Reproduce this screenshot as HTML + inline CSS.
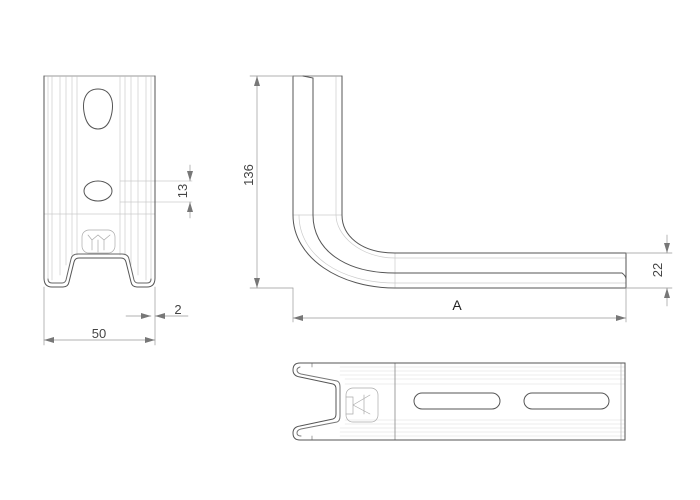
<!DOCTYPE html>
<html><head><meta charset="utf-8"><style>
html,body{margin:0;padding:0;background:#fff}
svg{display:block}
text{font-family:"Liberation Sans",sans-serif;fill:#444}
</style></head><body>
<svg width="700" height="500" viewBox="0 0 700 500" xmlns="http://www.w3.org/2000/svg">
<defs>
<marker id="ar" viewBox="0 0 10 6" refX="10" refY="3" markerWidth="10" markerHeight="6" orient="auto-start-reverse" markerUnits="userSpaceOnUse"><path d="M0,0 L10,3 L0,6 z" fill="#777"/></marker>
</defs>
<g fill="none" stroke-linecap="round">
<!-- LEFT VIEW -->
<g stroke="#ccc" stroke-width="0.7">
<line x1="48" y1="77" x2="48" y2="280"/><line x1="52" y1="77" x2="52" y2="280"/>
<line x1="60" y1="77" x2="60" y2="275"/><line x1="66" y1="77" x2="66" y2="265"/>
<line x1="72" y1="77" x2="72" y2="255"/><line x1="77" y1="77" x2="77" y2="255"/>
<line x1="120" y1="77" x2="120" y2="255"/><line x1="125" y1="77" x2="125" y2="255"/>
<line x1="131" y1="77" x2="131" y2="265"/><line x1="138" y1="77" x2="138" y2="275"/>
<line x1="146" y1="77" x2="146" y2="280"/><line x1="151" y1="77" x2="151" y2="280"/>
<line x1="44" y1="214" x2="155" y2="214"/>
<line x1="120" y1="181" x2="192" y2="181"/><line x1="120" y1="202" x2="192" y2="202"/>
</g>
<g stroke="#555" stroke-width="1">
<line x1="44" y1="76" x2="155" y2="76" stroke="#999"/>
<line x1="44" y1="76" x2="44" y2="278"/><line x1="155" y1="76" x2="155" y2="278"/>
<path d="M98,89 C86,89 82,100 84,112 C86,124 91,129 98,129 C105,129 110,124 112,112 C114,100 110,89 98,89 Z"/>
<ellipse cx="98" cy="191" rx="14" ry="10"/>
<path d="M44,278 Q44,287 52,287 L63,287 Q68,287 69,282 L74,262 Q75,258 79,258 L121,258 Q125,258 126,262 L131,282 Q132,287 137,287 L147,287 Q155,287 155,278"/>
<path d="M48,279 Q48,283 52,283 L62,283 Q65,283 66,280 L71,259 Q72,254 78,254 L122,254 Q128,254 129,259 L134,280 Q135,283 138,283 L147,283 Q151,283 151,279" stroke="#666"/>
</g>
<g stroke="#aaa" stroke-width="0.7">
<rect x="82" y="230" width="33" height="23" rx="7"/>
<path d="M88,235 L92,240 L98,235 L104,240 L110,235 M92,240 L92,250 M104,240 L104,250 M98,240 L98,252"/>
</g>
<!-- dims left -->
<g stroke="#999" stroke-width="0.7">
<line x1="190" y1="165" x2="190" y2="181" marker-end="url(#ar)"/>
<line x1="190" y1="218" x2="190" y2="202" marker-end="url(#ar)"/>
<line x1="44" y1="287" x2="44" y2="345"/><line x1="155" y1="287" x2="155" y2="345"/>
<line x1="44" y1="340" x2="155" y2="340" marker-start="url(#ar)" marker-end="url(#ar)"/>
<line x1="126" y1="316" x2="151" y2="316" marker-end="url(#ar)"/>
<line x1="188" y1="316" x2="155" y2="316" marker-end="url(#ar)"/>
</g>
<!-- SIDE VIEW -->
<g stroke="#ccc" stroke-width="0.7">
<line x1="336" y1="77" x2="336" y2="215"/>
<line x1="293" y1="215" x2="342" y2="215"/>
<line x1="395" y1="253" x2="395" y2="288"/>
<path d="M299,215 C299,255 340,283 395,283"/>
<path d="M336,215 C336,235 360,258 395,258"/>
<line x1="395" y1="258" x2="626" y2="258"/>
<line x1="395" y1="283" x2="626" y2="283"/>
</g>
<g stroke="#555" stroke-width="1">
<line x1="293" y1="76" x2="342" y2="76" stroke="#888"/>
<path d="M293,76 L293,215 C293,258 340,288 395,288 L626,288 L626,253 L395,253 C360,253 342,235 342,215 L342,76"/>
<path d="M303,76 L313,78 L313,215 C313,250 345,273 395,273 L622,273 Q626,276 626,279"/>
</g>
<g stroke="#999" stroke-width="0.7">
<line x1="250" y1="76" x2="293" y2="76"/><line x1="250" y1="288" x2="293" y2="288"/>
<line x1="257" y1="76" x2="257" y2="288" marker-start="url(#ar)" marker-end="url(#ar)"/>
<line x1="626" y1="253" x2="672" y2="253"/><line x1="626" y1="288" x2="672" y2="288"/>
<line x1="667" y1="235" x2="667" y2="253" marker-end="url(#ar)"/>
<line x1="667" y1="306" x2="667" y2="288" marker-end="url(#ar)"/>
<line x1="293" y1="288" x2="293" y2="322"/><line x1="626" y1="288" x2="626" y2="322"/>
<line x1="293" y1="318" x2="626" y2="318" marker-start="url(#ar)" marker-end="url(#ar)"/>
</g>
<!-- BOTTOM VIEW -->
<g stroke="#ddd" stroke-width="0.6">
<line x1="340" y1="367" x2="625" y2="367"/><line x1="340" y1="371" x2="625" y2="371"/>
<line x1="340" y1="375" x2="625" y2="375"/><line x1="345" y1="379" x2="625" y2="379"/>
<line x1="345" y1="384" x2="625" y2="384"/><line x1="345" y1="420" x2="625" y2="420"/>
<line x1="345" y1="424" x2="625" y2="424"/><line x1="340" y1="428" x2="625" y2="428"/>
<line x1="340" y1="432" x2="625" y2="432"/><line x1="340" y1="436" x2="625" y2="436"/>
</g>
<g stroke="#888" stroke-width="0.8">
<line x1="395" y1="363" x2="395" y2="440"/>
<line x1="312" y1="363" x2="312" y2="367"/><line x1="312" y1="436" x2="312" y2="440"/>
<line x1="621" y1="363" x2="621" y2="440" stroke="#bbb"/>
</g>
<g stroke="#555" stroke-width="1">
<path d="M625,363 L300,363 Q293,363 293,370 Q293,376 300,377 L333,384 Q336,385 336,389 L336,414 Q336,418 333,419 L300,426 Q293,427 293,433 Q293,440 300,440 L625,440 Z"/>
<path d="M300,367 Q297,368 297,370 Q297,373 301,374 L337,381 Q340,382 340,387 L340,416 Q340,421 337,422 L301,429 Q297,430 297,433 Q297,436 301,436" stroke="#777"/>
<rect x="414" y="393" width="86" height="16" rx="8"/>
<rect x="524" y="393" width="85" height="16" rx="8"/>
</g>
<g stroke="#aaa" stroke-width="0.7">
<rect x="346" y="388" width="32" height="34" rx="7"/>
<path d="M346,397 L353,397 L353,414 L346,414 M353,405 L370,395 M353,405 L370,414 M364,395 L364,414"/>
</g>
</g>
<text x="99" y="338" font-size="13" text-anchor="middle">50</text>
<text x="178" y="314" font-size="13" text-anchor="middle">2</text>
<text transform="translate(187,191) rotate(-90)" font-size="13" text-anchor="middle">13</text>
<text transform="translate(253,175) rotate(-90)" font-size="13" text-anchor="middle">136</text>
<text transform="translate(662,270) rotate(-90)" font-size="13" text-anchor="middle">22</text>
<text x="457" y="310" font-size="14" text-anchor="middle" style="fill:#222">A</text>
</svg>
</body></html>
